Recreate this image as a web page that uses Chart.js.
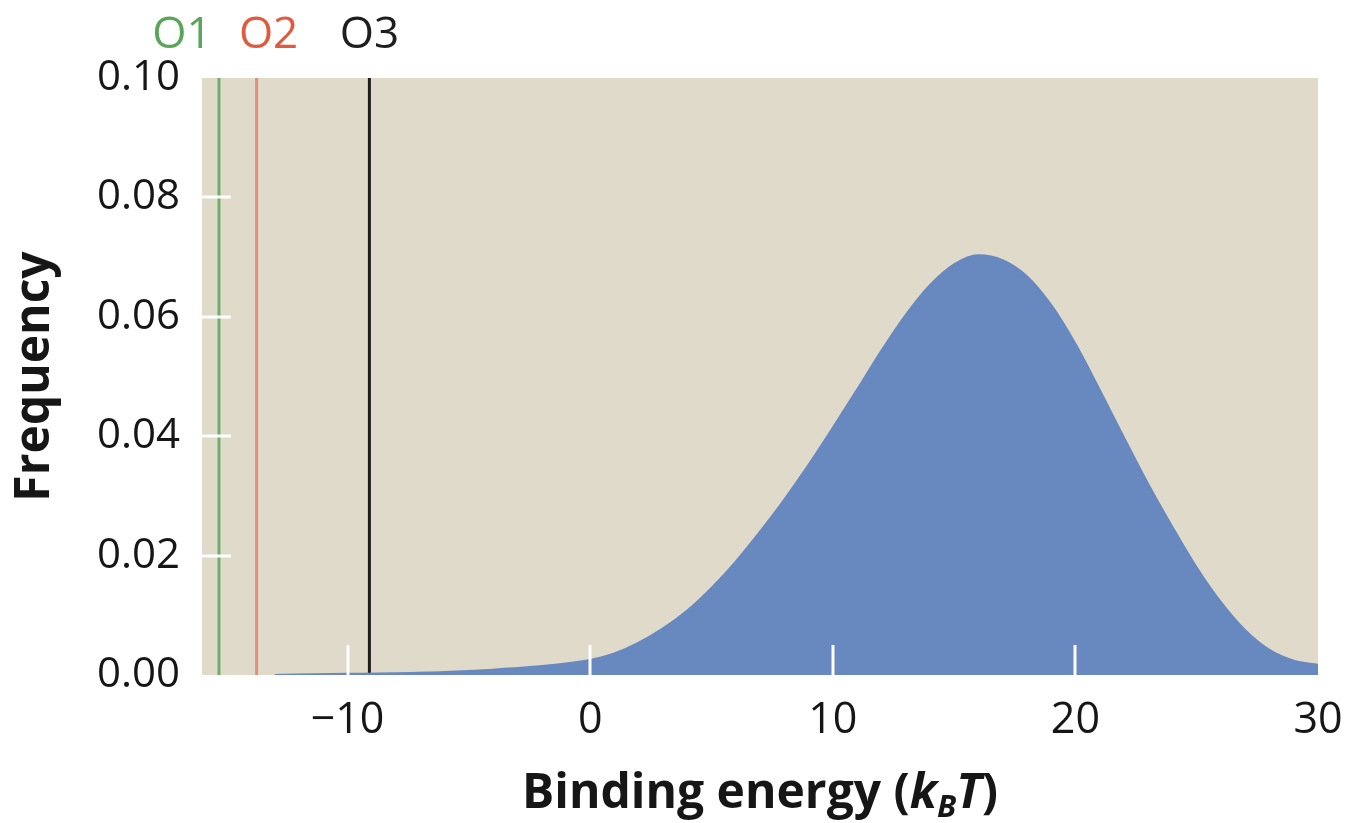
<!DOCTYPE html>
<html>
<head>
<meta charset="utf-8">
<script src="https://cdn.jsdelivr.net/npm/chart.js@4/dist/chart.umd.min.js"></script>
<style>
  html, body { margin: 0; padding: 0; background: #fff; }
  #wrap { width: 1361px; height: 823px; }
</style>
</head>
<body>
<div id="wrap"><canvas id="freqChart"></canvas></div>
<script>
// --- data ---
const energies = [-13, -12, -10, -8, -6, -4, -2, 0, 1, 2, 3, 4, 5, 6, 7, 8, 9, 10,
    11, 12, 13, 14, 15, 16, 17, 18, 19, 20, 21, 22, 23, 24, 25, 26, 27, 28, 29, 30];
const frequencies = [0, 0.0001, 0.0002, 0.0003, 0.0005, 0.0009, 0.0015, 0.0025, 0.0036, 0.0054,
    0.0078, 0.0108, 0.0146, 0.019, 0.024, 0.0294, 0.0352, 0.0414, 0.0478, 0.0543,
    0.0603, 0.0653, 0.0688, 0.0703, 0.0695, 0.0668, 0.062, 0.0555, 0.0478, 0.0398,
    0.032, 0.0248, 0.018, 0.0122, 0.0075, 0.0042, 0.0024, 0.0017];

const operatorNames = ['O1', 'O2', 'O3'];
const operatorEnergies = [-15.3, -13.75, -9.1];
const operatorColors = ['#6fae6a', '#e0907c', '#1e1e1e'];
const operatorTextColors = ['#5aa55a', '#df5a3e', '#1e1e1e'];
const labelShift = [-37, 12, 0];   // px, so the labels don't collide

const xTicks = [-10, 0, 10, 20, 30];
const yTicks = [0, 0.02, 0.04, 0.06, 0.08, 0.10];
const xMarks = [-10, 0, 10, 20];        // white marks inside the plot
const yMarks = [0.02, 0.04, 0.06, 0.08];

const BG = '#e0dacb';
const BLUE = '#6888c0';
const INK = '#161616';

// --- datasets ---
const datasets = [{
    data: energies.map((e, i) => ({ x: e, y: frequencies[i] })),
    borderColor: BLUE,
    borderWidth: 2,
    backgroundColor: BLUE,
    fill: 'origin',
    pointRadius: 0,
    cubicInterpolationMode: 'monotone'
}];
operatorEnergies.forEach((e, i) => {
    datasets.push({
        data: [{ x: e, y: 0 }, { x: e, y: 0.1 }],
        borderColor: operatorColors[i],
        borderWidth: 3,
        pointRadius: 0,
        fill: false
    });
});

// --- plugins ---
const plotBackground = {
    id: 'plotBackground',
    beforeDraw(chart) {
        const { ctx, chartArea: a } = chart;
        ctx.save();
        ctx.fillStyle = BG;
        ctx.fillRect(a.left, a.top, a.right - a.left, a.bottom - a.top);
        ctx.restore();
    }
};

const innerTicks = {
    id: 'innerTicks',
    afterDatasetsDraw(chart) {
        const { ctx, chartArea: a, scales } = chart;
        ctx.save();
        ctx.strokeStyle = '#ffffff';
        ctx.lineWidth = 3;
        xMarks.forEach(v => {
            const px = Math.round(scales.x.getPixelForValue(v));
            ctx.beginPath();
            ctx.moveTo(px, a.bottom);
            ctx.lineTo(px, a.bottom - 30);
            ctx.stroke();
        });
        yMarks.forEach(v => {
            const py = Math.round(scales.y.getPixelForValue(v));
            ctx.beginPath();
            ctx.moveTo(a.left, py);
            ctx.lineTo(a.left + 29, py);
            ctx.stroke();
        });
        ctx.restore();
    }
};

const operatorLabels = {
    id: 'operatorLabels',
    afterDraw(chart) {
        const { ctx, scales } = chart;
        ctx.save();
        ctx.font = '44px "Open Sans"';
        ctx.textAlign = 'center';
        ctx.textBaseline = 'middle';
        operatorNames.forEach((name, i) => {
            ctx.fillStyle = operatorTextColors[i];
            ctx.fillText(name, scales.x.getPixelForValue(operatorEnergies[i]) + labelShift[i], 35);
        });
        ctx.restore();
    }
};

// x title has an italic k with subscript B, so it's drawn in pieces
const xTitle = {
    id: 'xTitle',
    afterDraw(chart) {
        const { ctx, chartArea: a } = chart;
        const parts = [
            { t: 'Binding energy (', f: 'bold 48px "Open Sans"', dy: 0 },
            { t: 'k', f: 'italic bold 48px "Open Sans"', dy: 0 },
            { t: 'B', f: 'italic bold 31px "Open Sans"', dy: 9 },
            { t: 'T', f: 'italic bold 48px "Open Sans"', dy: 0 },
            { t: ')', f: 'bold 48px "Open Sans"', dy: 0 }
        ];
        ctx.save();
        ctx.fillStyle = INK;
        ctx.textBaseline = 'alphabetic';
        let total = 0;
        parts.forEach(p => { ctx.font = p.f; p.w = ctx.measureText(p.t).width; total += p.w; });
        let x = (a.left + a.right) / 2 - total / 2;
        const base = 808;
        parts.forEach(p => {
            ctx.font = p.f;
            ctx.fillText(p.t, x, base + p.dy);
            x += p.w;
        });
        ctx.restore();
    }
};

// --- chart ---
new Chart(document.getElementById('freqChart'), {
    type: 'line',
    data: { datasets },
    plugins: [plotBackground, innerTicks, operatorLabels, xTitle],
    options: {
        responsive: true,
        maintainAspectRatio: false,
        animation: false,
        layout: { padding: { top: 78, right: 43, left: 0, bottom: 0 } },
        plugins: { legend: { display: false }, tooltip: { enabled: false } },
        scales: {
            x: {
                type: 'linear',
                min: -16,
                max: 30,
                afterBuildTicks: s => { s.ticks = xTicks.map(v => ({ value: v })); },
                afterFit: s => { s.height = 148; },
                grid: { display: false },
                border: { display: false },
                ticks: {
                    padding: 12,
                    color: INK,
                    font: { family: 'Open Sans', size: 43 },
                    maxRotation: 0,
                    callback: v => (v < 0 ? '\u2212' + Math.abs(v) : String(v))
                }
            },
            y: {
                min: 0,
                max: 0.1,
                afterBuildTicks: s => { s.ticks = yTicks.map(v => ({ value: v })); },
                afterFit: s => { s.width = 202; },
                grid: { display: false },
                border: { display: false },
                ticks: {
                    padding: 14,
                    color: INK,
                    font: { family: 'Open Sans', size: 42 },
                    callback: v => v.toFixed(2)
                },
                title: {
                    display: true,
                    text: 'Frequency',
                    color: INK,
                    font: { family: 'Open Sans', size: 48, weight: 'bold' },
                    padding: { top: 7, bottom: 0 }
                }
            }
        }
    }
});
</script>
</body>
</html>
